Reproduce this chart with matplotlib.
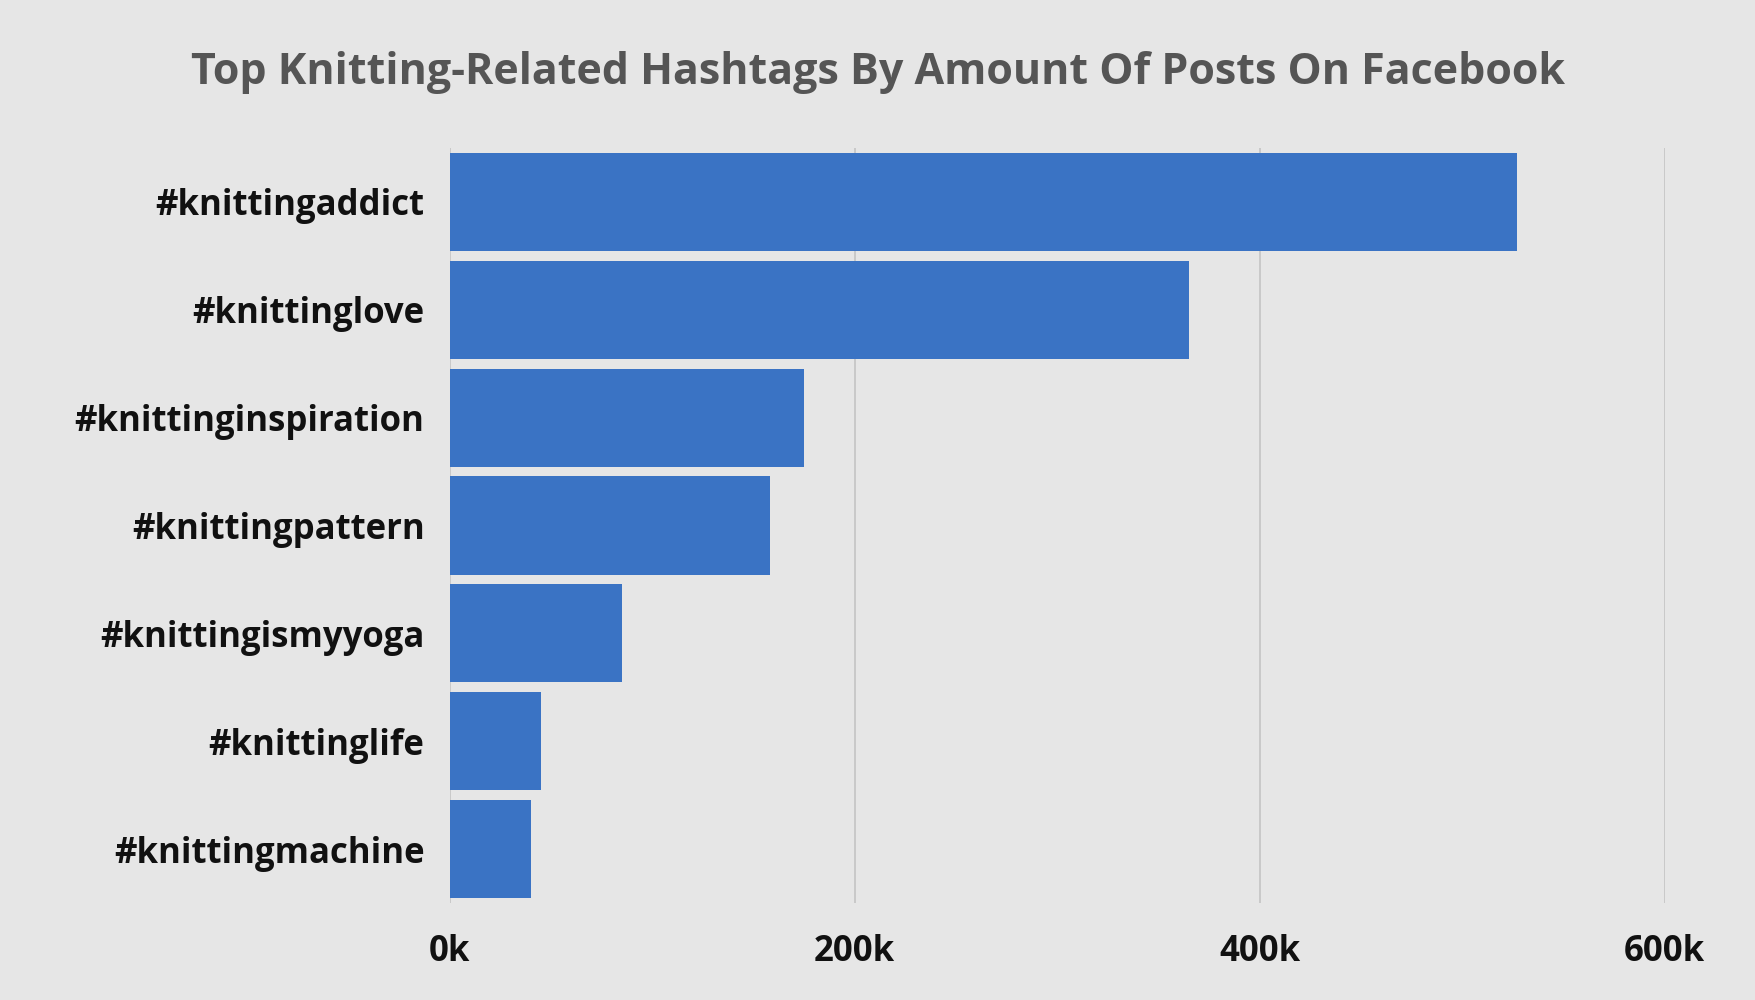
import matplotlib
matplotlib.use("Agg")
import matplotlib.pyplot as plt

plt.rcParams['font.family'] = ['Open Sans', 'DejaVu Sans']

hashtags = ['#knittingaddict', '#knittinglove', '#knittinginspiration', '#knittingpattern',
            '#knittingismyyoga', '#knittinglife', '#knittingmachine']
posts = [527000, 365000, 175000, 158000, 85000, 45000, 40000]
ticks = [0, 200000, 400000, 600000]
tick_labels = ['0k', '200k', '400k', '600k']

bg = '#e6e6e6'
fig = plt.figure(figsize=(17.56, 10.0), dpi=100, facecolor=bg)
ax = fig.add_axes([0.256, 0.097, 0.692, 0.755], facecolor=bg)

y = list(range(len(hashtags)))
ax.barh(y, posts, height=0.91, color='#3a73c4', zorder=3)
ax.set_ylim(len(hashtags) - 0.5, -0.5)
ax.set_xlim(0, 600000)
ax.set_yticks(y)
ax.set_yticklabels(hashtags, fontsize=25, fontweight='bold', color='#111111')
ax.set_xticks(ticks)
ax.set_xticklabels(tick_labels, fontsize=25, fontweight='bold', color='#111111')
ax.tick_params(length=0, pad=18)
ax.tick_params(axis='x', pad=22)
ax.grid(axis='x', color='#c4c4c4', linewidth=1.2, zorder=0)
for s in ax.spines.values():
    s.set_visible(False)

fig.text(0.5, 0.927, 'Top Knitting-Related Hashtags By Amount Of Posts On Facebook',
         ha='center', va='center', fontsize=31, fontweight='bold', color='#555555')

fig.savefig('out.png', facecolor=bg)
